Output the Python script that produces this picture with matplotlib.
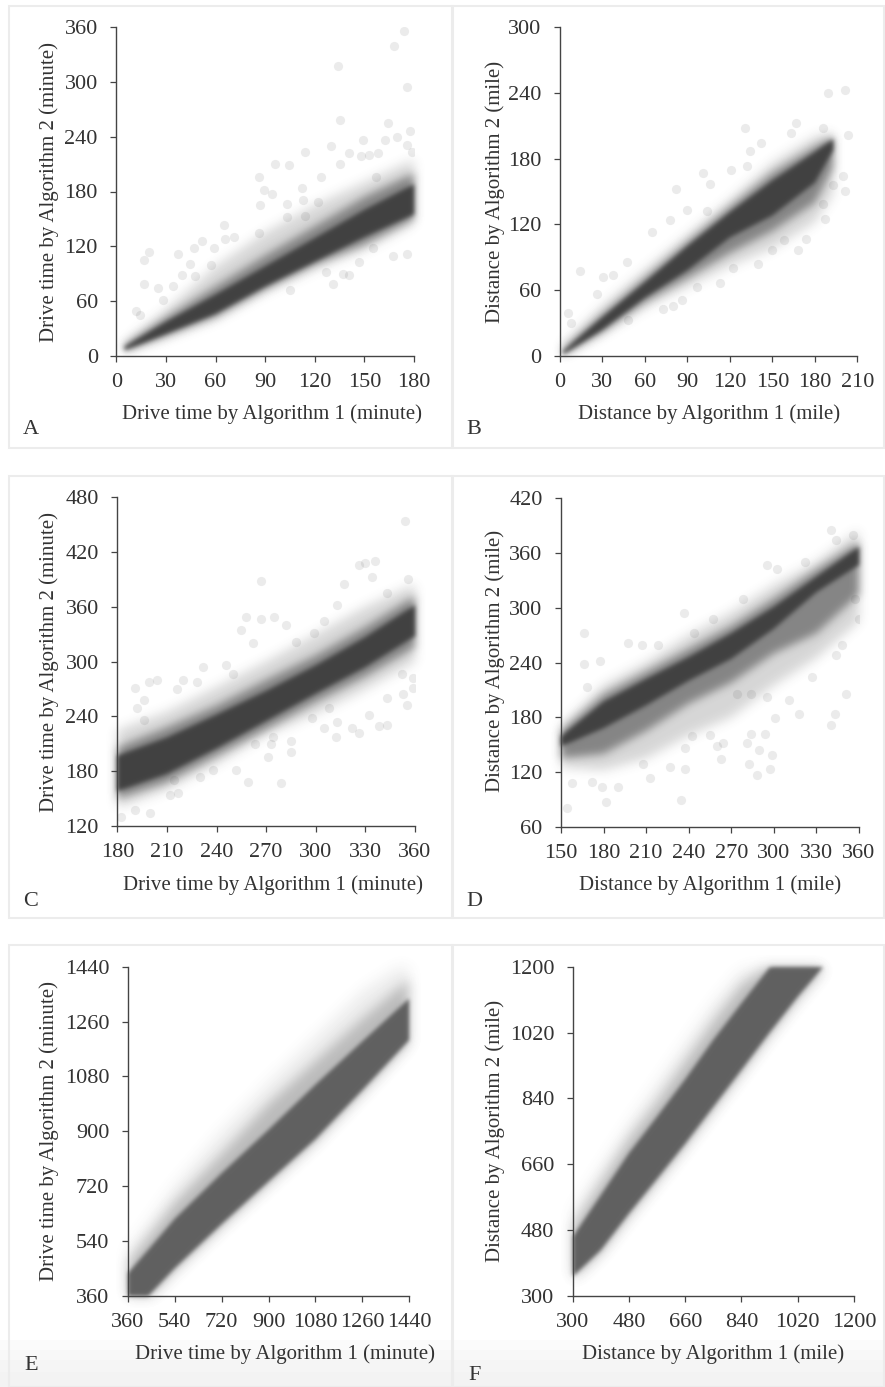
import matplotlib
matplotlib.use("Agg")
import numpy as np
import matplotlib.pyplot as plt
from matplotlib.colors import to_rgb
from matplotlib.patches import Rectangle

plt.rcParams['font.family'] = ['Liberation Serif', 'DejaVu Serif']

# ---- values ----
a_x = [5, 30, 60, 90, 120, 150, 180]
a_core_hi = [10, 37, 67, 98, 129, 160, 188]
a_core_lo = [6, 24, 46, 76, 103, 130, 155]
a_mid_hi = [12, 42, 76, 110, 142, 174, 200]
a_mid_lo = [5, 22, 43, 73, 100, 122, 150]
a_halo_hi = [14, 50, 98, 135, 165, 190, 215]
a_halo_lo = [5, 20, 40, 70, 95, 116, 145]
a_px = [174, 168, 134, 176, 135, 164.5, 177.6, 170, 149, 162.5, 175.6, 130, 114, 178.6, 141, 148, 153, 158, 96, 104.6,
        135, 86, 124, 157, 112, 89.5, 94, 87, 103, 122, 113, 103, 114, 65, 86, 52, 71, 66, 20, 17, 37.5, 59, 47, 17,
        25, 12, 14.5, 44.5, 57, 39.5, 47.5, 28, 34.5, 167.5, 175.6, 131, 137, 141, 147, 127, 105, 155.5]
a_py = [356, 340, 318, 295, 258, 255, 246, 240, 236, 236, 231, 230, 223, 223, 222, 219, 220, 222, 210, 209,
        210, 196, 196, 196, 184, 182, 177, 165, 166, 169, 171, 152, 153, 143, 134, 126, 130, 128, 114, 105, 112, 118, 118, 79,
        74, 49, 45, 101, 99, 88, 87, 61, 76, 109, 112, 79, 89.5, 88, 103, 92, 72, 118]

b_x = [2, 30, 60, 90, 120, 150, 180, 193]
b_core_hi = [4, 35, 67, 100, 131, 160, 186, 198]
b_core_lo = [1, 24, 53, 78, 108, 128, 158, 188]
b_mid_hi = [6, 38, 71, 104, 136, 167, 191, 200]
b_mid_lo = [1, 22, 49, 71, 94, 114, 140, 172]
b_halo_hi = [10, 45, 78, 110, 142, 176, 200, 204]
b_halo_lo = [0, 20, 44, 63, 82, 98, 122, 148]
b_px = [201, 189.5, 203.6, 130.6, 167, 163, 186, 142, 134, 121, 101, 132, 106, 82, 89.5, 103.5, 65, 78, 14, 47, 30.5,
        37.5, 26, 6, 8, 200, 201, 187, 174, 168, 149.5, 140, 113, 86, 80, 48, 73, 193, 122, 96.5, 186, 158]
b_py = [243, 240, 202, 208, 213, 203, 208, 194, 187, 170, 167, 173, 157, 152, 133, 132, 113, 124, 77, 86, 72,
        74, 56, 39, 30, 164, 150, 125, 107, 97, 97, 84, 66, 51, 45, 33, 43, 156, 80, 63, 139, 106]

c_x = [180, 210, 240, 270, 300, 330, 360]
c_core_hi = [197, 217, 242, 268, 296, 327, 362]
c_core_lo = [158, 177, 205, 235, 265, 294, 328]
c_mid_hi = [206, 228, 252, 280, 307, 338, 372]
c_mid_lo = [150, 168, 197, 226, 256, 284, 316]
c_halo_hi = [225, 245, 272, 300, 330, 360, 385]
c_halo_lo = [140, 160, 188, 220, 243, 270, 300]
c_px = [354, 267, 326, 336, 330, 334, 317, 355.5, 258, 275, 267, 282, 255, 262, 288, 232, 220, 228, 199, 204, 191, 216,
        196, 192, 196, 250, 246, 313, 305, 299, 343, 359, 359, 352, 353, 355, 343, 332, 338, 343, 326, 322, 313, 312,
        305, 308, 298, 285, 274, 273, 271, 285, 279, 259, 252, 238, 214, 212, 217, 200, 191, 182, 230, 263]
c_py = [454.5, 388, 406, 410, 408, 393, 385, 391, 349, 349, 347, 340, 335, 320, 322, 294.5, 280, 278, 278, 280, 271, 270,
        258, 249, 236, 287, 296, 362, 345, 331, 375, 271, 282, 287, 265, 252, 260, 241.5, 230, 231, 221.5, 227, 234, 218,
        227, 249, 238, 213.5, 218, 210, 196, 201, 167, 168.5, 181, 181, 170, 154, 156, 134, 137.5, 130, 174, 210]

d_x = [150, 180, 210, 240, 270, 300, 330, 360]
d_core_hi = [159, 197, 222, 246, 272, 301, 334, 367]
d_core_lo = [148, 168, 193, 220, 244, 277, 317, 347]
d_mid_hi = [165, 205, 230, 255, 280, 310, 342, 372]
d_mid_lo = [135, 140, 165, 195, 218, 250, 272, 315]
d_halo_hi = [170, 215, 240, 270, 295, 325, 350, 385]
d_halo_lo = [125, 122, 135, 160, 180, 215, 245, 285]
d_px = [340, 237, 166.5, 197.5, 207, 218.6, 166.5, 177.5, 168, 295, 302, 322, 356, 344, 278.5, 257, 244, 154, 182, 234.5,
        190.5, 179, 171.6, 157.5, 213, 227, 237.6, 207.5, 263, 288, 297, 282.5, 299, 289.6, 281, 340.5, 343, 318, 301,
        294, 284, 264, 260, 255, 242, 237.6, 351, 327, 311, 295, 284, 274, 344, 348, 360, 357]
d_py = [385, 294, 272, 261, 259, 259, 238, 242, 213.5, 347, 343, 350.5, 380, 374, 310, 288, 272, 81, 87, 89,
        104, 104, 109, 107.5, 113, 125, 123, 129, 134, 117, 123, 129, 138.6, 144, 152, 171, 184, 183.5, 179,
        162, 162, 152, 148, 160, 159, 146, 206, 224.5, 199, 202.5, 206, 206, 248, 259, 288, 310]

e_x = [360, 440, 540, 720, 900, 1080, 1260, 1440]
e_core_hi = [433, 512, 612, 762, 905, 1053, 1195, 1336]
e_core_lo = [300, 360, 450, 595, 735, 874, 1035, 1200]
e_mid_hi = [470, 555, 665, 825, 990, 1130, 1270, 1400]
e_mid_lo = [300, 352, 442, 587, 727, 866, 1027, 1192]
e_halo_hi = [510, 600, 720, 900, 1060, 1210, 1360, 1460]
e_halo_lo = [300, 345, 435, 580, 720, 859, 1020, 1185]

f_x = [300, 390, 480, 570, 660, 750, 840, 930, 1020, 1100]
f_core_hi = [461, 575, 690, 790, 892, 1000, 1100, 1198, 1205, 1205]
f_core_lo = [352, 425, 525, 620, 716, 817, 918, 1020, 1118, 1198]
f_mid_hi = [490, 610, 730, 830, 940, 1050, 1150, 1205, 1205, 1205]
f_mid_lo = [345, 417, 517, 612, 708, 809, 910, 1012, 1110, 1190]
f_halo_hi = [530, 650, 770, 880, 990, 1100, 1190, 1205, 1205, 1205]
f_halo_lo = [340, 411, 510, 605, 701, 802, 903, 1005, 1103, 1185]

a_ticks_x = [0, 30, 60, 90, 120, 150, 180]
a_ticks_y = [0, 60, 120, 180, 240, 300, 360]
b_ticks_x = [0, 30, 60, 90, 120, 150, 180, 210]
b_ticks_y = [0, 60, 120, 180, 240, 300]
c_ticks_x = [180, 210, 240, 270, 300, 330, 360]
c_ticks_y = [120, 180, 240, 300, 360, 420, 480]
d_ticks_x = [150, 180, 210, 240, 270, 300, 330, 360]
d_ticks_y = [60, 120, 180, 240, 300, 360, 420]
e_ticks_x = [360, 540, 720, 900, 1080, 1260, 1440]
e_ticks_y = [360, 540, 720, 900, 1080, 1260, 1440]
f_ticks_x = [300, 480, 660, 840, 1020, 1200]
f_ticks_y = [300, 480, 660, 840, 1020, 1200]

x_time = "Drive time by Algorithm 1 (minute)"
y_time = "Drive time by Algorithm 2 (minute)"
x_dist = "Distance by Algorithm 1 (mile)"
y_dist = "Distance by Algorithm 2 (mile)"

W, H = 885, 1387
fig = plt.figure(figsize=(W / 100, H / 100), dpi=100, facecolor='white')


class SoftEdge:
    """agg_filter: gaussian blur of the artist's alpha channel (look of a blurred scan)."""

    def __init__(self, sigma, color):
        self.sigma = sigma
        self.rgb = to_rgb(color)

    def __call__(self, im, dpi):
        pad = int(self.sigma * 3) + 1
        a = np.pad(im[:, :, 3], pad)
        fy = np.fft.fftfreq(a.shape[0])[:, None]
        fx = np.fft.rfftfreq(a.shape[1])[None, :]
        kernel = np.exp(-2 * (np.pi * self.sigma) ** 2 * (fx ** 2 + fy ** 2))
        blurred = np.clip(np.fft.irfft2(np.fft.rfft2(a) * kernel, s=a.shape), 0, 1)
        out = np.zeros(a.shape + (4,))
        out[:, :, :3] = self.rgb
        out[:, :, 3] = blurred
        return out, -pad, -pad


def px_rect(x0, y0, x1, y1, **kw):
    fig.add_artist(Rectangle((x0 / W, 1 - y1 / H), (x1 - x0) / W, (y1 - y0) / H,
                             transform=fig.transFigure, **kw))


for y0, col in [(1340, '#fbfbfb'), (1350, '#f8f8f8'), (1360, '#f5f5f5'), (1372, '#f3f3f3')]:
    px_rect(0, y0, W, H, facecolor=col, edgecolor='none')
for top, bot in [(6, 448), (476, 918), (945, 1387)]:
    px_rect(9, top, 452, bot, facecolor='none', edgecolor='#ececec', linewidth=1.5)
    px_rect(453, top, 884, bot, facecolor='none', edgecolor='#ececec', linewidth=1.5)

TXT = '#333333'


def panel(box, xs, layers, col, xlim, ylim, xt, yt, xl, yl, xl_pos, yl_pos, letter, let_pos, pts=None):
    l, t, r, b = box
    ax = fig.add_axes([l / W, 1 - b / H, (r - l) / W, (b - t) / H])
    ax.patch.set_alpha(0)
    ax.set_xlim(*xlim)
    ax.set_ylim(*ylim)
    (hh, hl), (mh, ml), (ch, cl) = layers
    scat = pts is not None
    halo_a, mid_a = (0.22, 0.55) if scat else (0.12, 0.35)
    sig_h, sig_m, sig_c = (4.0, 3.0, 1.6) if scat else (5.0, 4.0, 1.4)
    h = ax.fill_between(xs, hl, hh, facecolor=col, edgecolor='none', alpha=halo_a, zorder=1)
    h.set_agg_filter(SoftEdge(sig_h, col))
    m = ax.fill_between(xs, ml, mh, facecolor=col, edgecolor='none', alpha=mid_a, zorder=2)
    m.set_agg_filter(SoftEdge(sig_m, col))
    if scat:
        ax.scatter(pts[0], pts[1], s=44, color=col, alpha=0.10, linewidths=0, zorder=2)
    c = ax.fill_between(xs, cl, ch, facecolor=col, edgecolor='none', zorder=4)
    c.set_agg_filter(SoftEdge(sig_c, col))
    for s in ('top', 'right'):
        ax.spines[s].set_visible(False)
    for s in ('left', 'bottom'):
        ax.spines[s].set_color('#444444')
        ax.spines[s].set_linewidth(1.0)
        ax.spines[s].set_zorder(6)
    ax.set_xticks(xt)
    ax.set_yticks(yt)
    ax.tick_params(axis='both', length=4.3, width=0.9, color='#444444', labelcolor=TXT, labelsize=16, pad=8)
    ax.tick_params(axis='y', pad=9)
    fig.text(xl_pos[0] / W, 1 - (xl_pos[1] + 1.5) / H, xl, ha='center', va='center', fontsize=15, color=TXT)
    fig.text((yl_pos[0] + 3) / W, 1 - yl_pos[1] / H, yl, ha='center', va='center', rotation=90, fontsize=15, color=TXT)
    fig.text(let_pos[0] / W, 1 - (let_pos[1] + 2) / H, letter, ha='center', va='center', fontsize=16, color=TXT)


DARK = '#414141'
MIDG = '#606060'
panel((116.3, 27.3, 414, 355.7), a_x,
      [(a_halo_hi, a_halo_lo), (a_mid_hi, a_mid_lo), (a_core_hi, a_core_lo)], DARK, (0, 180), (0, 360),
      a_ticks_x, a_ticks_y, x_time, y_time, (272, 413), (46.5, 191.7), 'A', (31, 428), (a_px, a_py))
panel((560, 27.3, 857.3, 355.7), b_x,
      [(b_halo_hi, b_halo_lo), (b_mid_hi, b_mid_lo), (b_core_hi, b_core_lo)], DARK, (0, 210), (0, 300),
      b_ticks_x, b_ticks_y, x_dist, y_dist, (709, 413), (491.7, 191.7), 'B', (474, 428), (b_px, b_py))
panel((117.3, 497.3, 415, 826), c_x,
      [(c_halo_hi, c_halo_lo), (c_mid_hi, c_mid_lo), (c_core_hi, c_core_lo)], DARK, (180, 360), (120, 480),
      c_ticks_x, c_ticks_y, x_time, y_time, (273, 884), (46.5, 661.7), 'C', (31, 900), (c_px, c_py))
panel((561, 498.3, 859, 826.7), d_x,
      [(d_halo_hi, d_halo_lo), (d_mid_hi, d_mid_lo), (d_core_hi, d_core_lo)], DARK, (150, 360), (60, 420),
      d_ticks_x, d_ticks_y, x_dist, y_dist, (710, 884), (491.7, 661), 'D', (474, 900), (d_px, d_py))
panel((127.7, 966.7, 409.3, 1295.7), e_x,
      [(e_halo_hi, e_halo_lo), (e_mid_hi, e_mid_lo), (e_core_hi, e_core_lo)], MIDG, (360, 1440), (360, 1440),
      e_ticks_x, e_ticks_y, x_time, y_time, (284.7, 1353), (46.5, 1130.8), 'E', (31, 1363))
panel((572.7, 966.7, 854, 1295.7), f_x,
      [(f_halo_hi, f_halo_lo), (f_mid_hi, f_mid_lo), (f_core_hi, f_core_lo)], MIDG, (300, 1200), (300, 1200),
      f_ticks_x, f_ticks_y, x_dist, y_dist, (713, 1353), (491.7, 1131), 'F', (475, 1373))

fig.savefig('out.png', dpi=100, facecolor='white')
